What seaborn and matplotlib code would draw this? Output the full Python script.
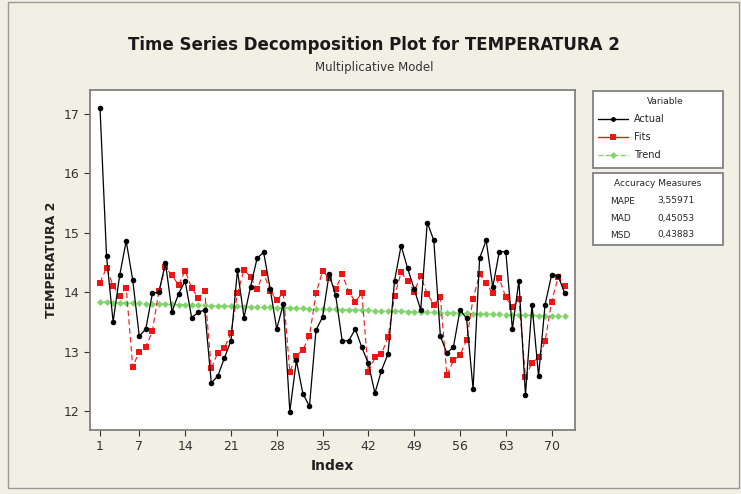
import numpy as np
import pandas as pd
import matplotlib
matplotlib.use("Agg")
import matplotlib.pyplot as plt
import seaborn as sns
from matplotlib.patches import Rectangle

# values
index = list(range(1, 73))
actual = [17.10, 14.60, 13.50, 14.28, 14.86, 14.20, 13.26, 13.38, 13.98, 14.00,
          14.49, 13.67, 13.97, 14.19, 13.57, 13.66, 13.70, 12.47, 12.59, 12.89,
          13.18, 14.37, 13.57, 14.09, 14.57, 14.67, 14.05, 13.38, 13.80, 11.99,
          12.85, 12.29, 12.08, 13.36, 13.58, 14.30, 13.95, 13.18, 13.18, 13.38,
          13.07, 12.80, 12.30, 12.68, 12.96, 14.19, 14.78, 14.40, 14.05, 13.70,
          15.17, 14.87, 13.26, 12.97, 13.08, 13.70, 13.56, 12.37, 14.57, 14.87,
          14.08, 14.68, 14.68, 13.38, 14.19, 12.27, 13.79, 12.59, 13.79, 14.29,
          14.27, 13.98]
fits = [14.16, 14.41, 14.10, 13.94, 14.07, 12.74, 13.00, 13.08, 13.34, 14.02,
        14.42, 14.28, 14.12, 14.36, 14.07, 13.90, 14.02, 12.72, 12.98, 13.06,
        13.31, 13.98, 14.37, 14.26, 14.05, 14.32, 14.02, 13.86, 13.99, 12.66,
        12.93, 13.03, 13.26, 13.98, 14.35, 14.24, 14.05, 14.30, 14.01, 13.84,
        13.98, 12.65, 12.90, 12.96, 13.24, 13.93, 14.33, 14.19, 14.01, 14.27,
        13.97, 13.79, 13.91, 12.60, 12.85, 12.94, 13.19, 13.89, 14.30, 14.15,
        13.98, 14.23, 13.91, 13.75, 13.88, 12.57, 12.81, 12.90, 13.17, 13.84,
        14.25, 14.10]
trend = [13.830, 13.827, 13.823, 13.820, 13.816, 13.813, 13.810, 13.806, 13.803, 13.800,
         13.796, 13.793, 13.789, 13.786, 13.783, 13.779, 13.776, 13.773, 13.769, 13.766,
         13.762, 13.759, 13.756, 13.752, 13.749, 13.746, 13.742, 13.739, 13.735, 13.732,
         13.729, 13.725, 13.722, 13.718, 13.715, 13.712, 13.708, 13.705, 13.702, 13.698,
         13.695, 13.691, 13.688, 13.685, 13.681, 13.678, 13.675, 13.671, 13.668, 13.664,
         13.661, 13.658, 13.654, 13.651, 13.648, 13.644, 13.641, 13.637, 13.634, 13.631,
         13.627, 13.624, 13.621, 13.617, 13.614, 13.610, 13.607, 13.604, 13.600, 13.597,
         13.594, 13.590]
xticks = [1, 7, 14, 21, 28, 35, 42, 49, 56, 63, 70]
yticks = [12, 13, 14, 15, 16, 17]
measure_names = ["MAPE", "MAD", "MSD"]
measure_values = ["3,55971", "0,45053", "0,43883"]

df = pd.DataFrame({"Index": index, "Actual": actual, "Fits": fits, "Trend": trend})

sns.set_style("white")
plt.rcParams['font.family'] = ['DejaVu Sans']
bg = "#f2efe5"

fig = plt.figure(figsize=(7.41, 4.94), dpi=100, facecolor=bg)
ax = fig.add_axes([90/741, 1-430/494, 485/741, 340/494])
ax.set_facecolor("white")

sns.lineplot(data=df, x="Index", y="Trend", ax=ax, color="#7fd46a", linestyle="--",
             marker="D", markersize=3.5, markeredgewidth=0, linewidth=1.0)
sns.lineplot(data=df, x="Index", y="Fits", ax=ax, color="#f01515", linestyle=(0, (5, 3)),
             marker="s", markersize=4.5, markeredgewidth=0, linewidth=0.8)
sns.lineplot(data=df, x="Index", y="Actual", ax=ax, color="black", linestyle="-",
             marker="o", markersize=4, markeredgewidth=0, linewidth=0.9)

ax.set_xlim(-0.53, 73.57)
ax.set_ylim(11.68, 17.40)
ax.set_xticks(xticks)
ax.set_yticks(yticks)
ax.tick_params(axis="both", direction="out", length=4, width=0.8, labelsize=9,
               colors="#333333", bottom=True, left=True)
for s in ax.spines.values():
    s.set_color("#777777")
    s.set_linewidth(1.2)
ax.set_xlabel("Index", fontsize=10, fontweight="bold", color="#222222")
ax.set_ylabel("TEMPERATURA 2", fontsize=9, fontweight="bold", color="#222222")

fig.text(374/741, 1 - 45/494, "Time Series Decomposition Plot for TEMPERATURA 2",
         ha="center", va="center", fontsize=12, fontweight="bold", color="#1a1a1a")
fig.text(374/741, 1 - 67/494, "Multiplicative Model",
         ha="center", va="center", fontsize=8.5, color="#333333")

# outer frame
fig.patches.append(Rectangle((8/741, 6/494), 731/741, 486/494, transform=fig.transFigure,
                             fill=False, edgecolor="#999999", linewidth=1.0))

# legend box
lx0, lx1 = 593/741, 723/741
fig.patches.append(Rectangle((lx0, 1-168/494), lx1-lx0, 77/494, transform=fig.transFigure,
                             facecolor="white", edgecolor="#777777", linewidth=1.2))
fig.text((lx0+lx1)/2 + 0.01, 1-101/494, "Variable", ha="center", va="center", fontsize=6.5)
rows = [("Actual", "black", "-", "o", 3.5), ("Fits", "#f01515", "-", "s", 4.5),
        ("Trend", "#7fd46a", "--", "D", 3.5)]
for k, (name, col, ls, mk, ms) in enumerate(rows):
    yy = 1 - (119 + k*18)/494
    fig.add_artist(plt.Line2D([598/741, 628/741], [yy, yy], color=col, linestyle=ls,
                              linewidth=1.0, transform=fig.transFigure))
    fig.add_artist(plt.Line2D([613/741], [yy], color=col, marker=mk, markersize=ms,
                              markeredgewidth=0, transform=fig.transFigure))
    fig.text(634/741, yy, name, ha="left", va="center", fontsize=7)

# accuracy box
fig.patches.append(Rectangle((lx0, 1-245/494), lx1-lx0, 72/494, transform=fig.transFigure,
                             facecolor="white", edgecolor="#777777", linewidth=1.2))
fig.text((lx0+lx1)/2, 1-184/494, "Accuracy Measures", ha="center", va="center", fontsize=6.5)
for k, (n, v) in enumerate(zip(measure_names, measure_values)):
    yy = 1 - (201 + k*17)/494
    fig.text(610/741, yy, n, ha="left", va="center", fontsize=6.5)
    fig.text(657/741, yy, v, ha="left", va="center", fontsize=6.5)

fig.savefig("out.png", dpi=100, facecolor=bg)
